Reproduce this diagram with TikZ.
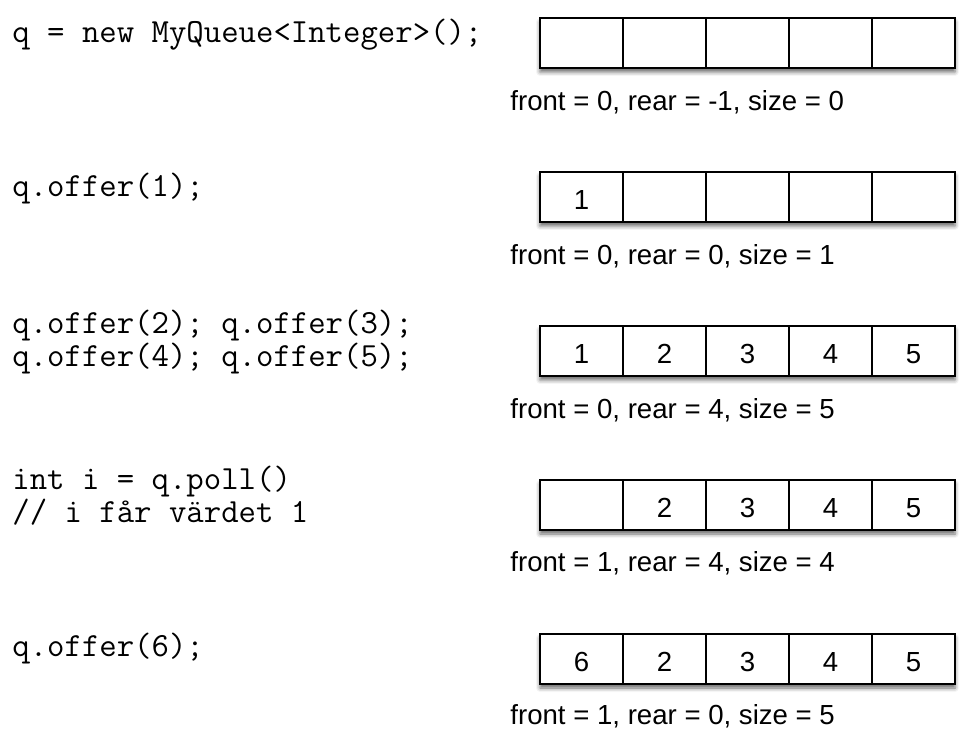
\documentclass[tikz,border=0pt]{standalone}
\usepackage{fontspec}
\setmainfont{Liberation Sans}
\usetikzlibrary{shadows.blur}
\begin{document}
\begin{tikzpicture}[x=0.5pt,y=-0.5pt]
            \tikzset{
                code/.style={anchor=west,inner sep=0pt,align=left,
                    font=\fontsize{16.9pt}{16.5pt}\selectfont\ttfamily},
                info/.style={anchor=west,inner sep=0pt,font=\fontsize{13.8pt}{16pt}\selectfont},
                frame/.style={fill=white,minimum width=207.5pt,minimum height=25pt,inner sep=0pt,
                    blur shadow={shadow xshift=0pt,shadow yshift=-2pt,shadow blur radius=2pt,shadow opacity=60}},
                cell/.style={draw,line width=0.9pt,minimum width=41.5pt,minimum height=25pt,inner sep=0pt,
                    text height=13pt,text depth=0pt,font=\fontsize{13.8pt}{16pt}\selectfont},}
            \useasboundingbox (0,0) rectangle (976,731);
            % program lines
            \node[code] (c1) at (12,35) {q = new MyQueue<Integer>();};
            \node[code] (c2) at (12,189) {q.offer(1);};
            \node[code] (c3) at (12,342) {q.offer(2); q.offer(3);\\q.offer(4); q.offer(5);};
            \node[code] (c4) at (12,496) {int i = q.poll()\\// i får värdet 1};
            \node[code] (c5) at (12,649) {q.offer(6);};
            % queue arrays
            \foreach \r/\y/\vals in {1/43/{,,,,},2/197/{1,,,,},3/351/{1,2,3,4,5},4/505/{,2,3,4,5},5/659/{6,2,3,4,5}}{
                \node[frame] (row\r) at (747.5,\y) {};
                \foreach \v [count=\i] in \vals
                    \node[cell] (r\r c\i) at (498.5+83*\i,\y) {\v};
            }
            % state after each step
            \node[info] (s1) at (510,102) {front = 0, rear = -1, size = 0};
            \node[info] (s2) at (510,256) {front = 0, rear = 0, size = 1};
            \node[info] (s3) at (510,410) {front = 0, rear = 4, size = 5};
            \node[info] (s4) at (510,563) {front = 1, rear = 4, size = 4};
            \node[info] (s5) at (510,716) {front = 1, rear = 0, size = 5};
        \end{tikzpicture}
\end{document}
